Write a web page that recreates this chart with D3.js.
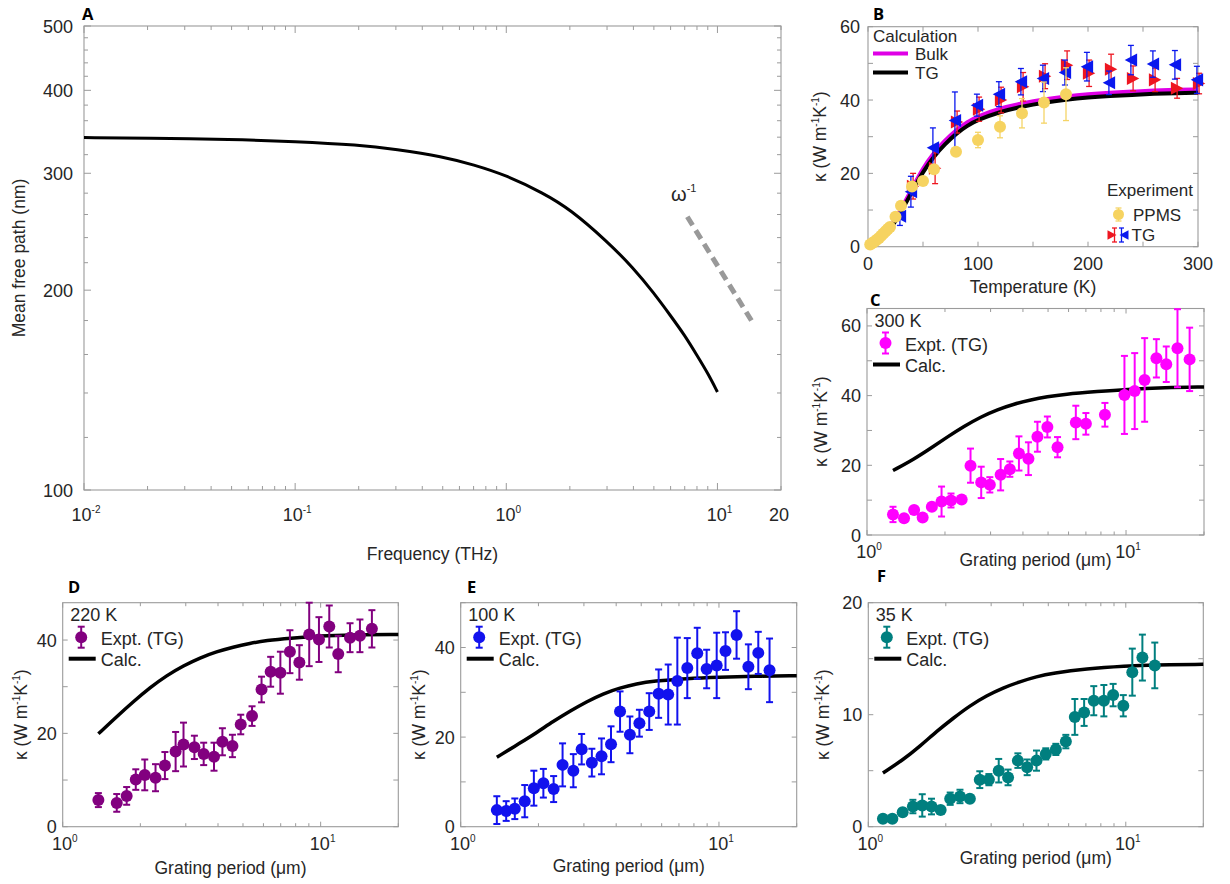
<!DOCTYPE html>
<html><head><meta charset="utf-8">
<script src="https://cdn.jsdelivr.net/npm/d3@7"></script>
<style>
body{margin:0;background:#fff;}
svg text{font-family:"Liberation Sans",Arial,Helvetica,sans-serif;}
</style></head>
<body><svg id="c" width="1230" height="884"></svg>
<script>
// ---------------- DATA ----------------
// Panel A: mean free path vs frequency
const freqA = [0.01, 0.02, 0.05, 0.1, 0.2, 0.3, 0.5, 0.7, 1, 1.5, 2, 3, 4, 5, 6, 7, 8, 9, 10];
const mfpA  = [339.5, 339, 337.5, 335, 331, 326, 318, 309, 298, 280, 265, 237, 216, 198, 183, 171, 159.5, 150, 140.5];
const guideFreq = [7.2, 14.8];
const guideMfp  = [258, 178];
const aXTickVals = [0.01, 0.1, 1, 10, 20];
const aXTickBase = ['10', '10', '10', '10', '20'];
const aXTickExp  = ['-2', '-1', '0', '1', ''];
const aYTickVals = [100, 200, 300, 400, 500];

// Panel B: kappa vs temperature
const tCalc   = [0,5,10,15,20,25,30,35,40,50,60,70,80,90,100,120,140,160,180,200,220,240,260,280,300];
const kBulk   = [0,0.3,1.5,3.2,5.2,7.6,10.2,13,15.8,21.5,25.7,29,31.8,34,35.6,37.8,39.1,40.2,41,41.6,42,42.3,42.6,42.8,42.9];
const kTGcalc = [0,0.3,1.3,2.9,4.8,7,9.5,12.2,15,20.5,24.7,28,30.8,33,34.6,36.8,38.2,39.3,40.1,40.7,41.1,41.4,41.7,41.9,42.0];
const tPPMS = [2,4,6,8,10,12,14,16,18,20,25,30,40,50,60,80,100,120,140,160,180];
const kPPMS = [0.6,1.0,1.4,1.9,2.4,3.0,3.6,4.2,4.8,5.4,8.2,11.2,16.4,17.9,21.1,25.9,29.1,32.7,36.4,39.3,41.6];
const ePPMS = [0,0,0,0,0,0,0,0,0,0,0,0,0.5,0.5,1,0.6,2.1,3,4,5.6,7.2];
const tBlue = [29,39,59,79,99,119,139,159,179,199,219,239,259,279,299];
const kBlue = [8.3,15.0,27.0,34.4,38.6,41.6,45.0,45.9,47.5,49.1,44.7,50.9,49.8,49.6,45.5];
const eBlue = [2.5,4.2,5.4,7.8,3.0,3.4,3.6,3.6,3.4,3.9,3.2,4.0,3.6,3.9,3.7];
const tRed  = [41,61,81,101,121,141,161,181,201,221,241,261,281,301];
const kRed  = [16.5,21.4,34.0,37.5,40.0,43.6,46.5,49.5,47.3,48.4,45.9,45.5,43.2,44.5];
const eRed  = [3.5,4.2,3.0,3.3,3.5,3.9,3.4,3.9,3.6,4.1,3.4,3.2,2.7,2.8];
const bXTickVals = [0, 100, 200, 300];
const bYTickVals = [0, 20, 40, 60];

// Panel C: 300 K
const gC = [1.26,1.39,1.52,1.64,1.78,1.94,2.11,2.32,2.51,2.76,2.98,3.28,3.56,3.86,4.2,4.55,4.97,5.44,6.40,7.0,8.29,9.86,10.8,11.8,13.1,14.3,15.8,17.6];
const kC = [5.9,4.8,7.2,5.0,8.1,9.6,9.9,10.2,19.9,15.1,14.4,17.3,18.9,23.4,21.9,28.2,31.0,25.2,32.3,31.9,34.5,40.2,41.3,44.5,50.7,49.0,53.6,50.4];
const eC = [2.2,0.5,0.5,0.5,0.5,4.3,2.0,0.5,4.9,4.5,2.2,4.5,2.2,4.9,4.7,4.3,3.0,2.9,4.8,3.1,3.4,11.2,10.9,12.0,5.5,5.1,11.2,9.1];
const gCcalc = [1.26,1.52,1.76,2.04,2.37,2.75,3.19,3.70,4.29,4.97,5.77,7.8,10,14.1,20];
const kCcalc = [18.5,21.8,24.9,28.1,31.2,33.9,36.0,37.6,38.8,39.7,40.4,41.2,41.8,42.3,42.5];
const cYTickVals = [0, 20, 40, 60];

// Panel D: 220 K
const gD = [1.375,1.62,1.77,1.92,2.08,2.29,2.49,2.74,2.94,3.24,3.52,3.86,4.16,4.55,4.90,5.42,5.9,6.4,6.98,7.6,8.27,9.03,9.85,10.8,11.7,13.0,14.2,15.8];
const kD = [5.7,5.1,6.6,10.1,11.1,10.5,13.1,16.1,17.6,17.0,15.6,15.0,18.2,17.3,21.9,23.7,29.4,33.2,33.0,37.5,35.2,41.2,40.1,42.9,37.0,40.5,40.9,42.4];
const eD = [1.5,1.9,1.9,2.2,3.3,2.9,2.9,4.2,4.7,2.5,2.4,3.0,2.9,2.4,2.1,2.1,2.75,3.2,4.5,4.6,3.7,6.8,4.8,4.5,3.9,3.1,3.5,4.0];
const gDcalc = [1.375,1.62,1.88,2.18,2.53,2.94,3.41,3.95,4.58,5.31,6.16,7.6,10,13,20];
const kDcalc = [19.9,23.6,26.8,29.8,32.4,34.5,36.2,37.5,38.5,39.3,39.9,40.4,40.9,41.1,41.2];
const dYTickVals = [0, 20, 40];

// Panel E: 100 K
const gE = [1.38,1.50,1.62,1.77,1.92,2.09,2.29,2.48,2.73,2.94,3.22,3.51,3.82,4.14,4.52,4.92,5.37,5.84,6.36,6.9,7.54,8.24,8.96,9.8,10.6,11.7,13.0,14.2,15.7];
const kE = [3.7,3.5,4.0,5.7,8.6,9.7,8.4,13.8,12.5,17.3,14.3,15.7,18.4,25.7,20.5,23.1,25.7,29.7,29.5,32.5,35.4,38.7,35.2,36.0,39.2,42.8,35.7,38.8,34.9];
const eE = [3.1,2.2,2.3,3.6,3.9,3.2,2.9,4.8,3.7,3.4,3.1,4.0,4.0,4.5,4.1,3.0,4.1,5.4,6.7,9.7,6.7,5.7,4.3,7.3,4.2,5.3,5.0,4.7,7.1];
const gEcalc = [1.38,1.70,1.97,2.28,2.65,3.07,3.56,4.14,4.80,5.57,7.5,10,13.6,20];
const kEcalc = [15.5,18.7,21.0,23.5,25.8,27.9,29.7,31.0,31.9,32.5,33.1,33.4,33.6,33.7];
const eYTickVals = [0, 20, 40];

// Panel F: 35 K
const gF = [1.14,1.24,1.36,1.49,1.62,1.76,1.91,2.08,2.27,2.48,2.71,2.94,3.21,3.49,3.81,4.14,4.5,4.89,5.35,5.85,6.34,6.89,7.51,8.22,8.93,9.78,10.6,11.6,12.96];
const kF = [0.7,0.7,1.3,1.8,1.9,1.8,1.5,2.5,2.7,2.5,4.2,4.2,5.0,4.4,5.9,5.3,5.9,6.5,6.9,7.6,9.8,10.2,11.25,11.25,11.75,10.8,13.8,15.1,14.4];
const eF = [0.1,0.1,0.3,0.6,1.0,0.7,0.2,0.55,0.6,0.3,0.75,0.5,1.05,0.7,0.65,0.7,0.9,0.5,0.5,0.6,1.6,1.2,1.3,1.4,1.0,0.95,2.1,2.05,2.04];
const gFcalc = [1.14,1.37,1.59,1.84,2.14,2.48,2.88,3.34,3.88,4.5,5.2,7.0,10,12.8,20];
const kFcalc = [4.8,6.0,7.2,8.5,9.7,10.8,11.7,12.4,12.95,13.4,13.7,14.1,14.35,14.45,14.5];
const fYTickVals = [0, 10, 20];

const gridXTickVals = [1, 10];
const gridXTickBase = ['10', '10'];
const gridXTickExp  = ['0', '1'];

// ---------------- DRAWING ----------------
const svg = d3.select('#c');
const AX = '#9b9b9b';
const TXT = '#262626';

function txt(g, x, y, s, o = {}) {
  return g.append('text').attr('x', x).attr('y', y)
    .attr('text-anchor', o.anchor || 'start')
    .style('font-size', (o.size || 18) + 'px')
    .style('font-weight', o.weight || 'normal')
    .style('font-family', o.family || null)
    .attr('fill', o.fill || TXT).text(s);
}
function powTxt(g, x, y, base, exp, o = {}) {
  const t = g.append('text').attr('x', x).attr('y', y)
    .attr('text-anchor', o.anchor || 'middle')
    .style('font-size', (o.size || 18) + 'px').attr('fill', TXT);
  t.append('tspan').text(base);
  if (exp) t.append('tspan').attr('dy', -8).style('font-size', (o.sup || 10) + 'px').text(exp);
  return t;
}
function kappaLabel(g, cx, cy) {
  const t = g.append('text').attr('transform', `translate(${cx},${cy}) rotate(-90)`)
    .attr('text-anchor', 'middle').style('font-size', '17.5px').attr('fill', TXT);
  t.append('tspan').text('κ (W m');
  t.append('tspan').attr('dy', -7).style('font-size', '10px').text('-1');
  t.append('tspan').attr('dy', 7).text('K');
  t.append('tspan').attr('dy', -7).style('font-size', '10px').text('-1');
  t.append('tspan').attr('dy', 7).text(')');
}
function logSplit(lo, hi) {
  const maj = [], min = [];
  for (let d = Math.floor(Math.log10(lo)); d <= Math.ceil(Math.log10(hi)); d++) {
    for (let m = 1; m < 10; m++) {
      const v = m * Math.pow(10, d);
      if (v >= lo * 0.999 && v <= hi * 1.001) (m === 1 ? maj : min).push(v);
    }
  }
  return [maj, min];
}
function linRange(lo, hi, step) { const a = []; for (let v = lo; v <= hi + 1e-9; v += step) a.push(v); return a; }

function axesBox(b, x, y, xMaj, xMin, yMaj, yMin, lMaj, lMin) {
  const g = svg.append('g');
  const tk = (x1, y1, x2, y2) => g.append('line').attr('x1', x1).attr('y1', y1).attr('x2', x2).attr('y2', y2)
    .attr('stroke', AX).attr('stroke-width', 1);
  xMaj.forEach(v => { const p = x(v); tk(p, b.y1, p, b.y1 - lMaj); tk(p, b.y0, p, b.y0 + lMaj); });
  xMin.forEach(v => { const p = x(v); tk(p, b.y1, p, b.y1 - lMin); tk(p, b.y0, p, b.y0 + lMin); });
  yMaj.forEach(v => { const p = y(v); tk(b.x0, p, b.x0 + lMaj, p); tk(b.x1, p, b.x1 - lMaj, p); });
  yMin.forEach(v => { const p = y(v); tk(b.x0, p, b.x0 + lMin, p); tk(b.x1, p, b.x1 - lMin, p); });
  g.append('rect').attr('x', b.x0).attr('y', b.y0).attr('width', b.x1 - b.x0).attr('height', b.y1 - b.y0)
    .attr('fill', 'none').attr('stroke', AX).attr('stroke-width', 1.1);
  return g;
}
function errBars(g, x, y, xs, ks, es, color, sw, cap) {
  xs.forEach((v, i) => {
    if (!es[i]) return;
    const px = x(v), t = y(ks[i] + es[i]), bt = y(ks[i] - es[i]);
    g.append('line').attr('x1', px).attr('x2', px).attr('y1', t).attr('y2', bt).attr('stroke', color).attr('stroke-width', sw);
    [t, bt].forEach(yy => g.append('line').attr('x1', px - cap).attr('x2', px + cap).attr('y1', yy).attr('y2', yy)
      .attr('stroke', color).attr('stroke-width', sw));
  });
}
function dots(g, x, y, xs, ks, color, r) {
  xs.forEach((v, i) => g.append('circle').attr('cx', x(v)).attr('cy', y(ks[i])).attr('r', r).attr('fill', color));
}
function curve(g, x, y, xs, ks, color, w) {
  const line = d3.line().x(d => x(d[0])).y(d => y(d[1])).curve(d3.curveBasis);
  g.append('path').attr('d', line(xs.map((v, i) => [v, ks[i]]))).attr('fill', 'none')
    .attr('stroke', color).attr('stroke-width', w).attr('stroke-linejoin', 'round');
}
function triR(cx, cy, s) { return `M${cx - s},${cy - s * 1.05}L${cx + s},${cy}L${cx - s},${cy + s * 1.05}Z`; }
function triL(cx, cy, s) { return `M${cx + s},${cy - s * 1.05}L${cx - s},${cy}L${cx + s},${cy + s * 1.05}Z`; }
function letter(s, x, y) {
  txt(svg, x, y, s, { size: 16.5, weight: 'bold', fill: '#000', family: '"Open Sans","Liberation Sans",Arial,sans-serif' });
}

// ---------- Panel A ----------
(function () {
  const b = { x0: 84, x1: 781, y0: 26, y1: 490 };
  const x = d3.scaleLog().domain([0.01, 20]).range([b.x0, b.x1]);
  const y = d3.scaleLog().domain([100, 500]).range([b.y1, b.y0]);
  const [xMaj, xMin] = logSplit(0.01, 20);
  const yMin = linRange(120, 480, 20).filter(v => aYTickVals.indexOf(v) < 0);
  const g = axesBox(b, x, y, xMaj, xMin, aYTickVals, yMin, 7, 4);
  curve(g, x, y, freqA, mfpA, '#000', 3);
  g.append('path').attr('d', d3.line().x(d => x(d[0])).y(d => y(d[1]))(guideFreq.map((v, i) => [v, guideMfp[i]])))
    .attr('stroke', '#999').attr('stroke-width', 5).attr('stroke-dasharray', '10,6').attr('fill', 'none');
  const om = g.append('text').attr('x', 671).attr('y', 201).style('font-size', '20px').attr('fill', TXT);
  om.append('tspan').text('ω');
  om.append('tspan').attr('dy', -9).style('font-size', '11px').text('-1');
  aYTickVals.forEach(v => txt(g, b.x0 - 11, y(v) + 6.5, String(v), { anchor: 'end', size: 18 }));
  aXTickVals.forEach((v, i) => powTxt(g, x(v) + (aXTickExp[i] ? 2 : -2), 521, aXTickBase[i], aXTickExp[i], { size: 18 }));
  txt(g, (b.x0 + b.x1) / 2, 560, 'Frequency (THz)', { anchor: 'middle', size: 17.5 });
  g.append('text').attr('transform', `translate(25,${(b.y0 + b.y1) / 2}) rotate(-90)`).attr('text-anchor', 'middle')
    .style('font-size', '17.5px').attr('fill', TXT).text('Mean free path (nm)');
  letter('A', 82, 20);
})();

// ---------- Panel B ----------
(function () {
  const b = { x0: 868, x1: 1198, y0: 26.7, y1: 246.7 };
  const x = d3.scaleLinear().domain([0, 300]).range([b.x0, b.x1]);
  const y = d3.scaleLinear().domain([0, 60]).range([b.y1, b.y0]);
  const g = axesBox(b, x, y, linRange(0, 300, 50), [], linRange(0, 60, 10), [], 5, 3);
  curve(g, x, y, tCalc, kBulk, '#DF00E6', 4);
  curve(g, x, y, tCalc, kTGcalc, '#000', 4);
  // TG red
  errBars(g, x, y, tRed, kRed, eRed, '#EE1620', 1.3, 3);
  tRed.forEach((v, i) => g.append('path').attr('d', triR(x(v), y(kRed[i]), 6.2)).attr('fill', '#EE1620'));
  // TG blue
  errBars(g, x, y, tBlue, kBlue, eBlue, '#0A18EE', 1.3, 3);
  tBlue.forEach((v, i) => g.append('path').attr('d', triL(x(v), y(kBlue[i]), 6.2)).attr('fill', '#0A18EE'));
  // PPMS
  errBars(g, x, y, tPPMS, kPPMS, ePPMS, '#F5D466', 1.3, 3);
  dots(g, x, y, tPPMS, kPPMS, '#F6D360', 6);
  // legends
  txt(g, 873, 42, 'Calculation', { size: 17 });
  g.append('line').attr('x1', 873).attr('x2', 908).attr('y1', 53.5).attr('y2', 53.5).attr('stroke', '#DF00E6').attr('stroke-width', 4);
  txt(g, 915, 59.5, 'Bulk', { size: 17 });
  g.append('line').attr('x1', 873).attr('x2', 908).attr('y1', 72.5).attr('y2', 72.5).attr('stroke', '#000').attr('stroke-width', 4);
  txt(g, 915, 78.5, 'TG', { size: 17 });
  txt(g, 1107, 196, 'Experiment', { size: 17 });
  errBars(g, d => d, d => d, [1118.5], [214.5], [6.5], '#F5D466', 1.3, 3);
  g.append('circle').attr('cx', 1118.5).attr('cy', 214.5).attr('r', 5.5).attr('fill', '#F6D360');
  txt(g, 1133, 220.5, 'PPMS', { size: 17 });
  errBars(g, d => d, d => d, [1114.5], [235], [7], '#EE1620', 1.3, 2.5);
  g.append('path').attr('d', triR(1112, 235, 4.5)).attr('fill', '#EE1620');
  errBars(g, d => d, d => d, [1121.5], [235], [7], '#0A18EE', 1.3, 2.5);
  g.append('path').attr('d', triL(1124, 235, 4.5)).attr('fill', '#0A18EE');
  txt(g, 1131.5, 241, 'TG', { size: 17 });
  // tick labels
  bYTickVals.forEach(v => txt(g, b.x0 - 8, y(v) + 6.5, String(v), { anchor: 'end', size: 18 }));
  bXTickVals.forEach(v => txt(g, x(v), 270, String(v), { anchor: 'middle', size: 18 }));
  txt(g, (b.x0 + b.x1) / 2, 293, 'Temperature (K)', { anchor: 'middle', size: 17.5 });
  kappaLabel(g, 826, (b.y0 + b.y1) / 2);
  letter('B', 873, 20);
})();

// ---------- Grating panels ----------
function gratingPanel(b, yMax, yStep, yLabels, gs, ks, es, gc, kc, color, tempLabel, ylx, xlabY, letterPos) {
  const x = d3.scaleLog().domain([1, 20]).range([b.x0, b.x1]);
  const y = d3.scaleLinear().domain([0, yMax]).range([b.y1, b.y0]);
  const [xMaj, xMin] = logSplit(1, 20);
  const g = axesBox(b, x, y, xMaj, xMin, linRange(0, yMax, yStep), [], 5, 3.5);
  curve(g, x, y, gc, kc, '#000', 3.5);
  errBars(g, x, y, gs, ks, es, color, 2, 3.5);
  dots(g, x, y, gs, ks, color, 6);
  // legend
  txt(g, b.x0 + 7.5, b.y0 + 18, tempLabel, { size: 18 });
  errBars(g, d => d, d => d, [b.x0 + 18.5], [b.y0 + 34.5], [10.5], color, 2, 3.5);
  g.append('circle').attr('cx', b.x0 + 18.5).attr('cy', b.y0 + 34.5).attr('r', 6).attr('fill', color);
  txt(g, b.x0 + 38, b.y0 + 42, 'Expt. (TG)', { size: 18 });
  g.append('line').attr('x1', b.x0 + 6).attr('x2', b.x0 + 33).attr('y1', b.y0 + 56).attr('y2', b.y0 + 56)
    .attr('stroke', '#000').attr('stroke-width', 4);
  txt(g, b.x0 + 38, b.y0 + 63, 'Calc.', { size: 18 });
  // ticks
  yLabels.forEach(v => txt(g, b.x0 - 6, y(v) + 6.5, String(v), { anchor: 'end', size: 18 }));
  gridXTickVals.forEach((v, i) => powTxt(g, x(v) + 2, b.y1 + 23, gridXTickBase[i], gridXTickExp[i], { size: 18 }));
  txt(g, (b.x0 + b.x1) / 2, xlabY, 'Grating period (μm)', { anchor: 'middle', size: 17.5 });
  kappaLabel(g, ylx, (b.y0 + b.y1) / 2);
  letter(letterPos[0], letterPos[1], letterPos[2]);
}

gratingPanel({ x0: 867, x1: 1204, y0: 308.5, y1: 535 }, 65, 10, cYTickVals, gC, kC, eC, gCcalc, kCcalc,
  '#FF00FF', '300 K', 827, 566, ['C', 870, 306]);
gratingPanel({ x0: 62.7, x1: 398.3, y0: 602.7, y1: 826.7 }, 48, 10, dYTickVals, gD, kD, eD, gDcalc, kDcalc,
  '#82007F', '220 K', 27, 874, ['D', 68, 593]);
gratingPanel({ x0: 460.7, x1: 796.7, y0: 602.7, y1: 826.7 }, 50, 10, eYTickVals, gE, kE, eE, gEcalc, kEcalc,
  '#1212EE', '100 K', 425, 872, ['E', 467, 593]);
gratingPanel({ x0: 868.3, x1: 1203.3, y0: 602.7, y1: 826.7 }, 20, 5, fYTickVals, gF, kF, eF, gFcalc, kFcalc,
  '#007F7F', '35 K', 829, 864, ['F', 877, 582]);
</script>
</body></html>
